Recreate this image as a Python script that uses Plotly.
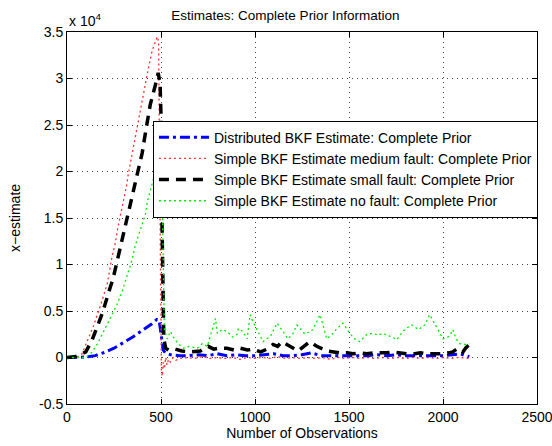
import plotly.graph_objects as go

# ---- data (y values in units of 1e4, as on the axis) ----
obs_blue = [0, 50, 100, 150, 200, 250, 300, 350, 400, 450, 478, 490, 497, 505, 512, 523,
            550, 600, 650, 700, 750, 800, 850, 900, 950, 1000, 1050, 1100, 1150, 1200,
            1250, 1300, 1350, 1400, 1450, 1500, 1550, 1600, 1650, 1700, 1750, 1800, 1850,
            1900, 1950, 2000, 2050, 2090, 2120, 2140]
est_blue = [0.0, 0.0, 0.005, 0.02, 0.055, 0.10, 0.16, 0.22, 0.29, 0.36, 0.41, 0.40, 0.30, 0.17, 0.08, 0.05,
            0.03, 0.02, 0.02, 0.03, 0.02, 0.04, 0.02, 0.03, 0.02, 0.02, 0.03, 0.04, 0.02, 0.02,
            0.03, 0.05, 0.02, 0.02, 0.02, 0.02, 0.02, 0.02, 0.03, 0.02, 0.03, 0.02, 0.02,
            0.02, 0.02, 0.02, 0.03, 0.04, 0.02, 0.01]

obs_red = [0, 50, 80, 107, 141, 180, 215, 240, 257, 269, 284, 296, 305, 316, 326, 347, 353,
           390, 426, 453, 480, 487, 492, 497, 502, 507, 512, 518, 525, 532, 540, 550, 565, 580,
           600, 640, 680, 720, 760, 800, 840, 880, 920, 960, 1000, 1040, 1080, 1120, 1160,
           1200, 1240, 1280, 1320, 1360, 1400, 1440, 1480, 1520, 1560, 1600, 1640, 1680,
           1720, 1760, 1800, 1840, 1880, 1920, 1960, 2000, 2040, 2080, 2120, 2140]
est_red = [0.0, 0.0, 0.04, 0.17, 0.34, 0.57, 0.80, 1.09, 1.23, 1.38, 1.52, 1.64, 1.73, 1.84, 1.97, 2.20, 2.25,
           2.65, 3.04, 3.30, 3.45, 3.40, 2.00, 0.50, -0.15, -0.20, -0.05, -0.12, 0.00, -0.08, -0.02, -0.05, 0.00, -0.03,
           -0.01, 0.00, -0.01, 0.01, -0.01, 0.00, -0.01, 0.00, -0.02, 0.00, -0.01, 0.00, -0.01, 0.01, -0.01,
           0.00, -0.01, 0.00, -0.01, 0.00, -0.02, 0.00, -0.01, 0.00, -0.01, 0.00, -0.01, 0.00,
           -0.01, 0.00, -0.01, 0.00, -0.01, 0.00, -0.01, 0.00, -0.01, 0.00, -0.01, -0.01]

obs_black = [0, 50, 80, 100, 134, 187, 231, 245, 266, 289, 311, 327, 351, 373, 400, 420, 443, 470, 485,
             495, 500, 505, 510, 515, 525, 540, 576, 610, 655, 709, 751, 780, 804, 851, 890, 921, 960,
             990, 1030, 1064, 1096, 1120, 1143, 1170, 1187, 1210, 1229, 1260, 1292, 1329, 1360, 1382,
             1420, 1451, 1490, 1521, 1560, 1595, 1630, 1664, 1700, 1733, 1770, 1807, 1850, 1880,
             1913, 1950, 2000, 2030, 2052, 2079, 2095, 2106, 2120, 2140]
est_black = [0.0, 0.01, 0.04, 0.06, 0.19, 0.47, 0.76, 0.85, 1.03, 1.23, 1.41, 1.57, 1.78, 1.98, 2.20, 2.45, 2.72, 2.93, 3.06,
             2.95, 2.60, 1.50, 0.50, 0.20, 0.10, 0.08, 0.09, 0.07, 0.06, 0.07, 0.12, 0.09, 0.10, 0.10, 0.08, 0.10, 0.08,
             0.09, 0.06, 0.09, 0.14, 0.12, 0.17, 0.14, 0.12, 0.09, 0.07, 0.12, 0.17, 0.12, 0.09, 0.07,
             0.06, 0.05, 0.05, 0.04, 0.05, 0.04, 0.05, 0.05, 0.05, 0.06, 0.05, 0.04, 0.04, 0.05,
             0.04, 0.04, 0.04, 0.05, 0.06, 0.10, 0.08, 0.06, 0.10, 0.14]

obs_green = [0, 50, 100, 130, 160, 190, 220, 250, 266, 293, 311, 327, 346, 364, 381, 399, 417, 426, 434,
             460, 480, 495, 505, 512, 518, 533, 550, 566, 590, 619, 650, 693, 720, 746, 778, 790, 799,
             825, 852, 880, 905, 911, 935, 958, 974, 990, 1011, 1043, 1060, 1080, 1100, 1117, 1149,
             1175, 1200, 1223, 1245, 1266, 1308, 1330, 1346, 1356, 1382, 1410, 1435, 1467, 1504, 1530,
             1557, 1595, 1627, 1655, 1680, 1701, 1730, 1754, 1786, 1810, 1834, 1870, 1903, 1929, 1945,
             1966, 2000, 2035, 2052, 2070, 2088, 2115, 2140]
est_green = [0.0, 0.0, 0.0, 0.05, 0.14, 0.26, 0.38, 0.50, 0.57, 0.71, 0.82, 0.92, 1.05, 1.21, 1.32, 1.41, 1.54, 1.66, 1.73,
             1.92, 2.05, 2.15, 1.90, 1.00, 0.30, 0.20, 0.28, 0.22, 0.15, 0.10, 0.12, 0.10, 0.15, 0.12, 0.35, 0.42, 0.26,
             0.30, 0.28, 0.22, 0.25, 0.31, 0.28, 0.20, 0.46, 0.38, 0.30, 0.17, 0.20, 0.22, 0.30, 0.37, 0.28,
             0.20, 0.25, 0.35, 0.30, 0.25, 0.30, 0.40, 0.46, 0.39, 0.20, 0.25, 0.31, 0.37, 0.26, 0.20,
             0.17, 0.25, 0.26, 0.24, 0.26, 0.24, 0.22, 0.19, 0.28, 0.32, 0.35, 0.30, 0.35, 0.46, 0.40,
             0.33, 0.20, 0.23, 0.30, 0.20, 0.15, 0.14, 0.15]

series_names = [
    "Distributed BKF Estimate: Complete Prior",
    "Simple BKF Estimate medium fault: Complete Prior",
    "Simple BKF Estimate small fault: Complete Prior",
    "Simple BKF Estimate no fault: Complete Prior",
]

x_ticks = [0, 500, 1000, 1500, 2000, 2500]
y_ticks = [-0.5, 0, 0.5, 1, 1.5, 2, 2.5, 3, 3.5]
y_tick_labels = ["-0.5", "0", "0.5", "1", "1.5", "2", "2.5", "3", "3.5"]

FONT = "Liberation Sans, Arial, sans-serif"
FS = 14

fig = go.Figure()
fig.add_trace(go.Scatter(x=obs_blue, y=est_blue, mode="lines", name=series_names[0],
                         line=dict(color="#0000ff", width=3, dash="10px,4px,3px,4px")))
fig.add_trace(go.Scatter(x=obs_red, y=est_red, mode="lines", name=series_names[1],
                         line=dict(color="#ff3030", width=1.3, dash="2px,3px")))
fig.add_trace(go.Scatter(x=obs_black, y=est_black, mode="lines", name=series_names[2],
                         line=dict(color="#000000", width=3.5, dash="10px,7px")))
fig.add_trace(go.Scatter(x=obs_green, y=est_green, mode="lines", name=series_names[3],
                         line=dict(color="#00ee00", width=1.3, dash="2px,3px")))

axis_common = dict(
    showline=True, linecolor="black", linewidth=1, mirror="allticks",
    ticks="inside", ticklen=5, tickcolor="black",
    showgrid=True, gridcolor="#444444", griddash="1px,4px", gridwidth=1,
    zeroline=False, automargin=False, ticklabeloverflow="allow",
    tickfont=dict(family=FONT, size=FS, color="black"),
)

fig.update_layout(
    width=552, height=446,
    margin=dict(l=67, r=15, t=32, b=42),
    paper_bgcolor="white", plot_bgcolor="white",
    font=dict(family=FONT, size=FS, color="black"),
    title=dict(text="Estimates: Complete Prior Information", x=0.517, xanchor="center",
               y=1 - 15 / 446, yanchor="middle", yref="container",
               font=dict(family=FONT, size=13.5, color="black")),
    xaxis=dict(range=[0, 2500], tickvals=x_ticks,
               title=dict(text="Number of Observations", standoff=4,
                          font=dict(family=FONT, size=FS, color="black")),
               **axis_common),
    yaxis=dict(range=[-0.5, 3.5], tickvals=y_ticks, ticktext=y_tick_labels,
               title=dict(text="x\u2212estimate", standoff=15,
                          font=dict(family=FONT, size=FS, color="black")),
               **axis_common),
    legend=dict(x=1.002, xanchor="right", y=0.762, yanchor="top",
                bgcolor="white", bordercolor="black", borderwidth=1,
                font=dict(family=FONT, size=FS, color="black"),
                tracegroupgap=0, itemwidth=50),
    showlegend=True,
)

fig.add_annotation(text="x 10<sup>4</sup>", xref="paper", yref="paper", x=0, y=1,
                   xanchor="left", yanchor="bottom", yshift=1, showarrow=False,
                   font=dict(family=FONT, size=FS, color="black"))

fig.write_html(
    "out.html",
    config={"displayModeBar": False},
    post_script="document.body.style.margin='0';document.body.style.overflow='hidden';",
)
